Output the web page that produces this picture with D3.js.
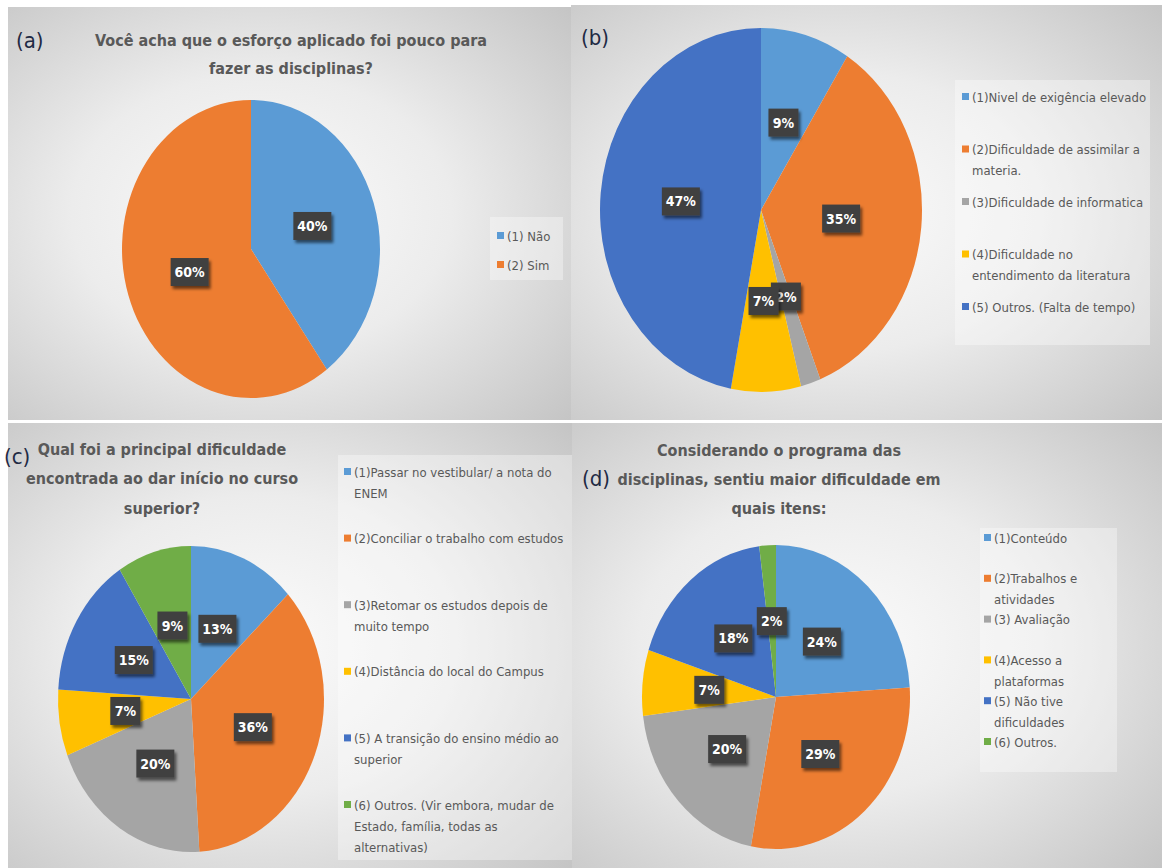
<!DOCTYPE html>
<html>
<head>
<meta charset="utf-8">
<script src="https://cdn.jsdelivr.net/npm/d3@7"></script>
<style>
  html, body { margin: 0; padding: 0; background: #fff; }
  svg { display: block; }
  text { font-family: "DejaVu Sans Condensed", "DejaVu Sans", sans-serif; }
</style>
</head>
<body>
<svg id="chart" width="1162" height="868"></svg>
<script>
// Excel-like palette, in series order
const palette = ["#5B9BD5", "#ED7D31", "#A5A5A5", "#FFC000", "#4472C4", "#70AD47"];

// (a)
const titleA = ["Você acha que o esforço aplicado  foi pouco para", "fazer as disciplinas?"];
const catsA = ["(1) Não", "(2) Sim"];
const valsA = [40, 60];

// (b)
const titleB = [];
const catsB = ["(1)Nivel de exigência elevado", "(2)Dificuldade de assimilar a\nmateria.", "(3)Dificuldade de informatica",
  "(4)Dificuldade no\nentendimento da literatura", "(5) Outros. (Falta de tempo)"];
const valsB = [9, 35, 2, 7, 47];

// (c)
const titleC = ["Qual foi a principal dificuldade", "encontrada ao dar início no curso", "superior?"];
const catsC = ["(1)Passar no vestibular/ a nota do\nENEM", "(2)Conciliar o trabalho com estudos",
  "(3)Retomar os estudos depois de\nmuito tempo", "(4)Distância do local do Campus",
  "(5) A transição do ensino médio ao\nsuperior", "(6) Outros. (Vir embora, mudar de\nEstado, família, todas as\nalternativas)"];
const valsC = [13, 36, 20, 7, 15, 9];

// (d)
const titleD = ["Considerando  o programa das", "disciplinas,  sentiu maior dificuldade em", "quais itens:"];
const catsD = ["(1)Conteúdo", "(2)Trabalhos e\natividades", "(3) Avaliação", "(4)Acesso a\nplataformas",
  "(5) Não tive\ndificuldades", "(6) Outros."];
const valsD = [24, 29, 20, 7, 18, 2];

const svg = d3.select("#chart");
const defs = svg.append("defs");

const bg = defs.append("radialGradient").attr("id", "bg")
  .attr("cx", "45%").attr("cy", "50%").attr("r", "75%");
bg.append("stop").attr("offset", "0%").attr("stop-color", "#fbfbfb");
bg.append("stop").attr("offset", "45%").attr("stop-color", "#ececec");
bg.append("stop").attr("offset", "100%").attr("stop-color", "#c4c4c4");

const shadow = defs.append("filter").attr("id", "shadow")
  .attr("x", "-30%").attr("y", "-30%").attr("width", "170%").attr("height", "170%");
shadow.append("feDropShadow").attr("dx", 2).attr("dy", 3).attr("stdDeviation", 1.6)
  .attr("flood-color", "#000").attr("flood-opacity", 0.55);

const pie = d3.pie().sort(null).value(d => d);
const arc = d3.arc().innerRadius(0).outerRadius(100);

function drawPanel(p) {
  const g = svg.append("g");

  // panel background
  g.append("rect")
    .attr("x", p.box[0]).attr("y", p.box[1])
    .attr("width", p.box[2]).attr("height", p.box[3])
    .attr("fill", "url(#bg)");

  // title
  g.selectAll("text.title")
    .data(p.title)
    .join("text")
      .attr("class", "title")
      .attr("x", p.titleX)
      .attr("y", (d, i) => p.titleY + i * p.titleStep)
      .attr("dy", "0.35em")
      .attr("text-anchor", "middle")
      .attr("font-size", 16)
      .attr("font-weight", "bold")
      .attr("fill", "#595959")
      .text(d => d);

  // panel letter
  g.append("text")
    .attr("x", p.letter[0]).attr("y", p.letter[1])
    .attr("dy", "0.35em")
    .attr("font-size", 22)
    .attr("fill", "#1f2a44")
    .text(p.letterText);

  // pie (drawn on a circle, stretched to the ellipse)
  const arcs = pie(p.values);
  const sx = p.rx / 100, sy = p.ry / 100;
  g.append("g")
    .attr("transform", `translate(${p.cx},${p.cy}) scale(${sx},${sy})`)
    .selectAll("path")
    .data(arcs)
    .join("path")
      .attr("fill", (d, i) => palette[i])
      .attr("d", arc);

  // data labels
  const lab = g.append("g").attr("transform", `translate(${p.cx},${p.cy})`)
    .selectAll("g")
    .data(arcs)
    .join("g")
      .attr("transform", d => {
        const c = arc.centroid(d);
        return `translate(${c[0] * sx},${c[1] * sy})`;
      });

  lab.append("rect")
    .attr("x", d => String(d.data).length > 1 ? -19 : -15)
    .attr("y", -14)
    .attr("width", d => String(d.data).length > 1 ? 38 : 30)
    .attr("height", 28)
    .attr("fill", "#404040")
    .attr("filter", "url(#shadow)");

  lab.append("text")
    .attr("text-anchor", "middle")
    .attr("dy", "0.36em")
    .attr("font-size", 14)
    .attr("font-weight", "bold")
    .attr("fill", "#fff")
    .text(d => d.data + "%");

  // legend
  const L = p.legend;
  g.append("rect")
    .attr("x", L.box[0]).attr("y", L.box[1])
    .attr("width", L.box[2]).attr("height", L.box[3])
    .attr("fill", "#fff").attr("fill-opacity", 0.35);

  const items = g.selectAll("g.leg")
    .data(p.cats)
    .join("g")
      .attr("class", "leg")
      .attr("transform", (d, i) => `translate(${L.x},${L.y + i * L.step})`);

  items.append("rect")
    .attr("x", 0).attr("y", -4)
    .attr("width", 7).attr("height", 7)
    .attr("fill", (d, i) => palette[i]);

  // wrapped lines line up with the first line's text, not the marker
  items.append("text")
    .attr("font-size", L.size)
    .attr("fill", "#595959")
    .selectAll("tspan")
    .data(d => d.split("\n"))
    .join("tspan")
      .attr("x", 10)
      .attr("y", (d, i) => i * 21)
      .attr("dy", "0.35em")
      .text(d => d);
}

drawPanel({
  box: [8, 7, 563, 413], letterText: "(a)", letter: [16, 40],
  title: titleA, titleX: 291, titleY: 40, titleStep: 28,
  cats: catsA, values: valsA, cx: 251, cy: 249, rx: 129, ry: 149,
  legend: { box: [490, 217, 73, 63], x: 497, y: 236, step: 29, size: 13 }
});

drawPanel({
  box: [571, 5, 591, 415], letterText: "(b)", letter: [581, 37],
  title: titleB, titleX: 760, titleY: 40, titleStep: 28,
  cats: catsB, values: valsB, cx: 761, cy: 210, rx: 161, ry: 182,
  legend: { box: [955, 80, 195, 265], x: 962, y: 97, step: 52.5, size: 13 }
});

drawPanel({
  box: [8, 423, 564, 445], letterText: "(c)", letter: [4, 456],
  title: titleC, titleX: 162, titleY: 449, titleStep: 29.5,
  cats: catsC, values: valsC, cx: 191, cy: 699, rx: 133, ry: 153,
  legend: { box: [338, 455, 234, 405], x: 344, y: 472, step: 66.6, size: 13 }
});

drawPanel({
  box: [572, 423, 590, 445], letterText: "(d)", letter: [582, 478],
  title: titleD, titleX: 779, titleY: 450, titleStep: 29,
  cats: catsD, values: valsD, cx: 776, cy: 697, rx: 134, ry: 152,
  legend: { box: [980, 528, 137, 244], x: 984, y: 538, step: 40.8, size: 13 }
});

// white separator between the two rows of panels
svg.append("line").attr("x1", 0).attr("x2", 1162).attr("y1", 421.5).attr("y2", 421.5)
  .attr("stroke", "#fff").attr("stroke-width", 3);
</script>
</body>
</html>
